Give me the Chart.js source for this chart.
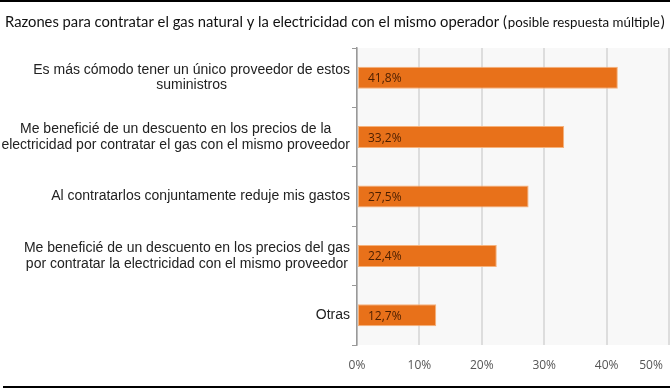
<!DOCTYPE html>
<html>
<head>
<meta charset="utf-8">
<script src="https://cdn.jsdelivr.net/npm/chart.js@4/dist/chart.umd.min.js"></script>
<style>
  html, body { margin: 0; padding: 0; background: #fff; }
  #wrap { width: 670px; height: 389px; }
</style>
</head>
<body>
<div id="wrap"><canvas id="chart"></canvas></div>
<script>
var categories = [
  ["Es más cómodo tener un único proveedor de estos", "suministros"],
  ["Me beneficié de un descuento en los precios de la", "electricidad por contratar el gas con el mismo proveedor"],
  ["Al contratarlos conjuntamente reduje mis gastos"],
  ["Me beneficié de un descuento en los precios del gas", "por contratar la electricidad con el mismo proveedor"],
  ["Otras"]
];
var values = [41.8, 33.2, 27.5, 22.4, 12.7];
var valueLabels = ["41,8%", "33,2%", "27,5%", "22,4%", "12,7%"];
var xTicks = [0, 10, 20, 30, 40, 50];

var titleMain = "Razones para contratar el gas natural y la electricidad con el mismo operador (";
var titleSmall = "posible respuesta múltiple";

var decor = {
  id: 'decor',
  beforeDraw: function(chart) {
    var ctx = chart.ctx, a = chart.chartArea;
    ctx.save();
    ctx.fillStyle = '#f8f8f8';
    ctx.fillRect(a.left, a.top, a.right - a.left + 2, a.bottom - a.top);
    ctx.restore();
  },
  afterDraw: function(chart) {
    var ctx = chart.ctx;
    ctx.save();
    // frame lines
    ctx.fillStyle = '#000';
    ctx.fillRect(0, 0, 670, 2);
    ctx.fillRect(3, 386, 667, 2);

    // title, mixed sizes
    ctx.fillStyle = '#111';
    ctx.textBaseline = 'alphabetic';
    ctx.textAlign = 'left';
    ctx.font = '14px Lato';
    var s = 14 * 502 / ctx.measureText(titleMain).width;
    ctx.font = s.toFixed(2) + 'px Lato';
    ctx.fillText(titleMain, 5, 27);
    var x = 5 + ctx.measureText(titleMain).width;
    ctx.font = '11px Lato';
    var s2 = 11 * 152 / ctx.measureText(titleSmall).width;
    ctx.font = s2.toFixed(2) + 'px Lato';
    ctx.fillText(titleSmall, x + 1, 27);
    x += 1 + ctx.measureText(titleSmall).width;
    ctx.font = s.toFixed(2) + 'px Lato';
    ctx.fillText(')', x + 1, 27);

    // category labels: block right-aligned, lines centered
    var y = chart.scales.y;
    ctx.font = '14px "Liberation Sans", Arial, sans-serif';
    ctx.fillStyle = '#222';
    ctx.textAlign = 'center';
    ctx.textBaseline = 'middle';
    var right = y.right - 7, lh = 15.5;
    categories.forEach(function(lines, i) {
      var w = 0;
      lines.forEach(function(l) { w = Math.max(w, ctx.measureText(l).width); });
      var cy = y.getPixelForValue(i) - (lines.length - 1) * lh / 2;
      lines.forEach(function(l, k) {
        ctx.fillText(l, right - w / 2, cy + k * lh);
      });
    });

    // value labels inside bars
    var meta = chart.getDatasetMeta(0);
    ctx.font = '12px "Open Sans", sans-serif';
    ctx.fillStyle = '#4a1e00';
    ctx.textAlign = 'left';
    meta.data.forEach(function(bar, i) {
      ctx.fillText(valueLabels[i], bar.base + 10, bar.y + 1);
    });
    ctx.restore();
  }
};

new Chart(document.getElementById('chart'), {
  type: 'bar',
  data: {
    labels: categories,
    datasets: [{
      data: values,
      backgroundColor: '#e8711a',
      borderColor: '#f6b27c',
      borderWidth: 1,
      borderSkipped: false,
      barPercentage: 0.37,
      categoryPercentage: 1
    }]
  },
  options: {
    indexAxis: 'y',
    responsive: true,
    maintainAspectRatio: false,
    animation: false,
    layout: { padding: { top: 48, right: 1, bottom: 0, left: 0 } },
    plugins: {
      legend: { display: false },
      tooltip: { enabled: false },
      title: { display: false }
    },
    scales: {
      x: {
        min: 0,
        max: 50,
        afterBuildTicks: function(scale) {
          scale.ticks = xTicks.map(function(v) { return { value: v }; });
        },
        afterFit: function(scale) {
          scale.height = 44;
          scale.paddingLeft = 0;
          scale.paddingRight = 0;
        },
        grid: { color: '#dddddd', lineWidth: 2, drawTicks: false },
        border: { display: false },
        ticks: {
          padding: 13,
          autoSkip: false,
          color: '#555',
          font: { family: '"Open Sans", sans-serif', size: 12 },
          maxRotation: 0,
          callback: function(v) {
            return v === 50 ? '50%\u2003\u2003\u2003' : v + '%';
          }
        }
      },
      y: {
        afterFit: function(scale) { scale.width = 357; },
        grid: { drawOnChartArea: false, drawTicks: true, tickLength: 5, color: '#999' },
        border: { display: true, color: '#999', width: 1.5 },
        ticks: { display: false }
      }
    }
  },
  plugins: [decor]
});
</script>
</body>
</html>
